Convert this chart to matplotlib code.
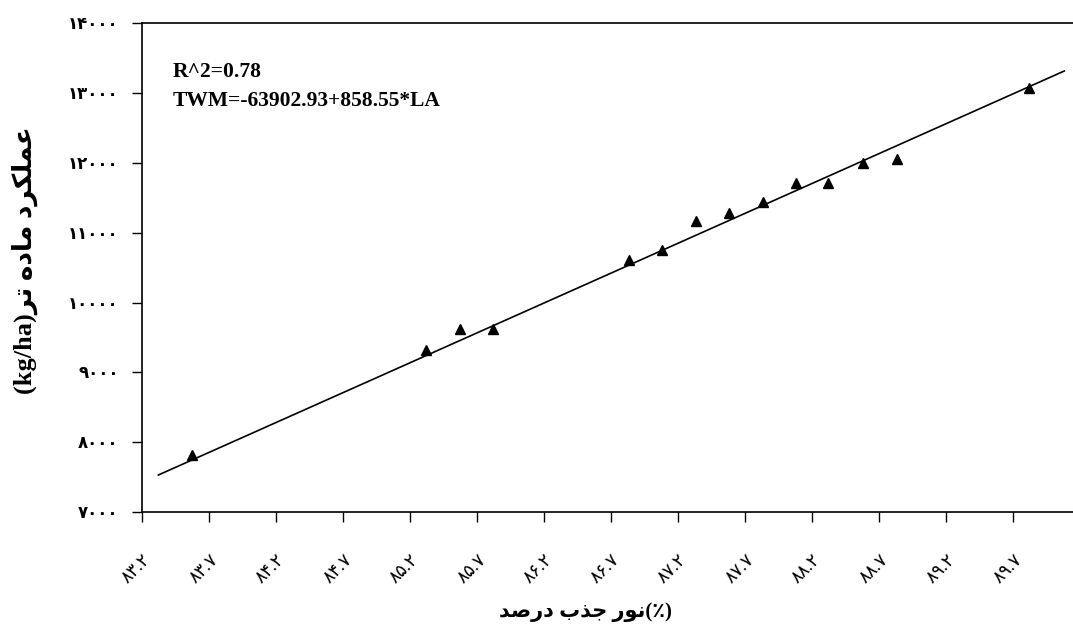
import matplotlib

matplotlib.use("Agg")
import matplotlib.pyplot as plt

# light absorption (%) vs. fresh matter yield (kg/ha)
light_abs = [83.57, 85.32, 85.57, 85.82, 86.83, 87.08, 87.33,
             87.58, 87.83, 88.08, 88.32, 88.58, 88.83, 89.82]
yield_kg = [7815, 9320, 9615, 9625, 10610, 10755, 11175,
            11280, 11435, 11710, 11710, 12000, 12055, 13075]

# fitted trend line ends
trend_x = [83.32, 90.08]
trend_y = [7530, 13317]

x_ticks = [83.2, 83.7, 84.2, 84.7, 85.2, 85.7, 86.2,
           86.7, 87.2, 87.7, 88.2, 88.7, 89.2, 89.7]
y_ticks = [7000, 8000, 9000, 10000, 11000, 12000, 13000, 14000]

stats_lines = ["R^2=0.78", "TWM=-63902.93+858.55*LA"]

FA_DIGITS = str.maketrans("0123456789", "\u06f0\u06f1\u06f2\u06f3\u06f4\u06f5\u06f6\u06f7\u06f8\u06f9")


def fa(s):
    return s.translate(FA_DIGITS)


# Persian words in presentation forms, visual (left-to-right) glyph order
w_darsad = "\ufeaa\ufebb\ufead\ufea9"          # درصد
w_jazb = "\ufe8f\ufeac\ufe9f"                  # جذب
w_noor = "\ufead\ufeee\ufee7"                  # نور
w_amalkard = "\ufea9\ufeae\ufb91\ufee0\ufee4\ufecb"  # عملکرد
w_madde = "\ufee9\ufea9\ufe8e\ufee3"           # ماده
w_tar = "\ufeae\ufe97"                         # تر

x_label = f"{w_darsad} {w_jazb} {w_noor}(\u066a)"
y_label = f"(kg/ha){w_tar} {w_madde} {w_amalkard}"

FAM = ["Liberation Serif", "DejaVu Sans"]

fig = plt.figure(figsize=(10.73, 6.35), dpi=100)
ax = fig.add_axes([0.1326, 0.1937, 0.8674, 0.7696])

ax.plot(trend_x, trend_y, "-", color="black", lw=1.2)
ax.plot(light_abs, yield_kg, "^", color="black", ms=6.5, clip_on=False)

ax.set_xlim(83.2, 90.145)
ax.set_ylim(7000, 14000)
ax.set_xticks(x_ticks)
ax.set_xticklabels([fa(f"{v:.1f}") for v in x_ticks], rotation=45,
                   ha="right", va="top", rotation_mode="anchor",
                   fontsize=13, family=FAM)
ax.set_yticks(y_ticks)
ax.set_yticklabels([fa(str(v)) for v in y_ticks], fontsize=12,
                   fontweight="bold", family=FAM)
ax.tick_params(axis="both", direction="out", length=7, width=1, pad=10)
ax.tick_params(axis="x", pad=21)
ax.spines["right"].set_visible(False)
for s in ("top", "left", "bottom"):
    ax.spines[s].set_linewidth(1.2)

ax.text(0.033, 0.90, stats_lines[0], transform=ax.transAxes, fontsize=15.5,
        fontweight="bold", family="Liberation Serif", va="center")
ax.text(0.033, 0.84, stats_lines[1], transform=ax.transAxes, fontsize=15.5,
        fontweight="bold", family="Liberation Serif", va="center")

fig.text(0.546, 0.037, x_label, ha="center", va="center", fontsize=15,
         fontweight="bold", family=FAM)
fig.text(0.023, 0.591, y_label, ha="center", va="center", rotation=90,
         fontsize=19, fontweight="bold", family=FAM)

fig.savefig("out.png", dpi=100)
